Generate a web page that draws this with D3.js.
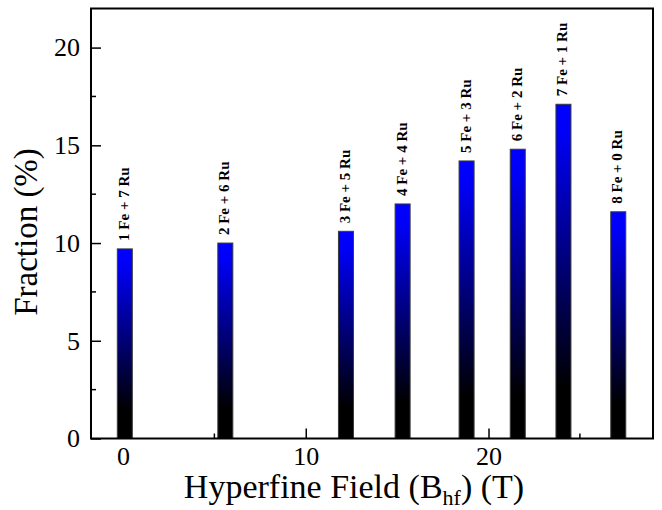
<!DOCTYPE html>
<html>
<head>
<meta charset="UTF-8">
<script src="https://d3js.org/d3.v7.min.js"></script>
</head>
<body style="margin:0">
<svg id="chart" width="662" height="510"></svg>
<script>
// data
const fields = [0.1, 5.6, 12.2, 15.3, 18.8, 21.6, 24.1, 27.1];       // Bhf (T)
const fractions = [9.7, 10.0, 10.6, 12.0, 14.2, 14.8, 17.1, 11.6];   // %
const configs = ["1 Fe + 7 Ru", "2 Fe + 6 Ru", "3 Fe + 5 Ru", "4 Fe + 4 Ru",
                 "5 Fe + 3 Ru", "6 Fe + 2 Ru", "7 Fe + 1 Ru", "8 Fe + 0 Ru"];
const xMajor = [0, 10, 20];
const xMinor = [5, 15, 25];
const yMajor = [0, 5, 10, 15, 20];
const yMinor = [2.5, 7.5, 12.5, 17.5];

const fam = '"Liberation Serif"';

const svg = d3.select("#chart").style("font-family", fam);
const margin = { top: 8.5, right: 9, bottom: 71.5, left: 91 };
const width = 662 - margin.left - margin.right;
const height = 510 - margin.top - margin.bottom;

const x = d3.scaleLinear().domain([-1.75, 29]).range([margin.left, margin.left + width]);
const y = d3.scaleLinear().domain([0, 22]).range([margin.top + height, margin.top]);

// gradient: blue on top fading to black at the base
const grad = svg.append("defs").append("linearGradient")
  .attr("id", "barFill")
  .attr("x1", 0).attr("y1", 0).attr("x2", 0).attr("y2", 1);
grad.append("stop").attr("offset", "0").attr("stop-color", "#0000ff");
grad.append("stop").attr("offset", "0.08").attr("stop-color", "#0000f8");
grad.append("stop").attr("offset", "0.85").attr("stop-color", "#000000");
grad.append("stop").attr("offset", "1").attr("stop-color", "#000000");

const data = fields.map((f, i) => ({ f, v: fractions[i], label: configs[i] }));
const barW = 15;

// bars
svg.append("g").selectAll("rect")
  .data(data).join("rect")
  .attr("x", d => x(d.f) - barW / 2)
  .attr("y", d => y(d.v))
  .attr("width", barW)
  .attr("height", d => y(0) - y(d.v))
  .attr("fill", "url(#barFill)")
  .attr("stroke", "#3a3a3a")
  .attr("stroke-width", 1);

// vertical labels above bars
svg.append("g").selectAll("text")
  .data(data).join("text")
  .attr("transform", d => `translate(${x(d.f) + 4},${y(d.v) - 8}) rotate(-90)`)
  .attr("text-anchor", "start")
  .attr("font-family", fam)
  .attr("font-weight", "bold")
  .attr("font-size", 15)
  .text(d => d.label);

// x axis - ticks point inward
const xAxis = d3.axisBottom(x).tickValues(xMajor).tickSize(-10).tickPadding(8).tickFormat(d3.format("d"));
const gx = svg.append("g").attr("transform", `translate(0,${y(0)})`).call(xAxis)
  .attr("font-family", fam).attr("font-size", 26);
gx.select(".domain").remove();
gx.selectAll(".tick line").attr("stroke", "#000").attr("stroke-width", 1.5);
gx.selectAll(".tick text").attr("font-family", fam);
svg.append("g").selectAll("line").data(xMinor).join("line")
  .attr("x1", d => x(d)).attr("x2", d => x(d))
  .attr("y1", y(0)).attr("y2", y(0) - 5)
  .attr("stroke", "#000").attr("stroke-width", 1.5);

// y axis
const yAxis = d3.axisLeft(y).tickValues(yMajor).tickSize(-10).tickPadding(11).tickFormat(d3.format("d"));
const gy = svg.append("g").attr("transform", `translate(${x.range()[0]},0)`).call(yAxis)
  .attr("font-family", fam).attr("font-size", 26);
gy.select(".domain").remove();
gy.selectAll(".tick line").attr("stroke", "#000").attr("stroke-width", 1.5);
gy.selectAll(".tick text").attr("font-family", fam);
svg.append("g").selectAll("line").data(yMinor).join("line")
  .attr("x1", x.range()[0]).attr("x2", x.range()[0] + 5)
  .attr("y1", d => y(d)).attr("y2", d => y(d))
  .attr("stroke", "#000").attr("stroke-width", 1.5);

// frame
svg.append("rect")
  .attr("x", margin.left).attr("y", margin.top)
  .attr("width", width).attr("height", height)
  .attr("fill", "none").attr("stroke", "#000").attr("stroke-width", 2);

// axis titles
svg.append("text")
  .attr("transform", `translate(37,232) rotate(-90)`)
  .attr("text-anchor", "middle")
  .attr("font-family", fam)
  .attr("font-size", 33)
  .text("Fraction (%)");

const xt = svg.append("text")
  .attr("x", 354).attr("y", 498)
  .attr("text-anchor", "middle")
  .attr("font-family", fam)
  .attr("font-size", 34);
xt.append("tspan").text("Hyperfine Field (B");
xt.append("tspan").attr("font-size", 22).attr("dy", 7).text("hf");
xt.append("tspan").attr("dy", -7).text(") (T)");
</script>
</body>
</html>
